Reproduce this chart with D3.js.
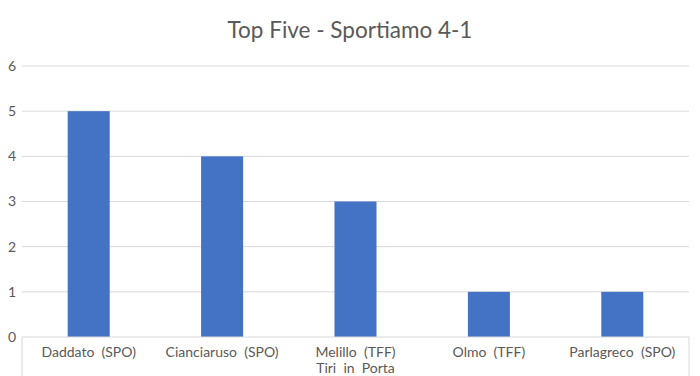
<!DOCTYPE html>
<html>
<head>
<meta charset="utf-8">
<script src="https://cdn.jsdelivr.net/npm/d3@7"></script>
<style>
  body { margin: 0; background: #fff; }
  svg { display: block; }
  text { white-space: pre; }
</style>
</head>
<body>
<div id="chart"></div>
<script>
// Data
const players = ['Daddato  (SPO)', 'Cianciaruso  (SPO)', 'Melillo  (TFF)', 'Olmo  (TFF)', 'Parlagreco  (SPO)'];
const shots = [5, 4, 3, 1, 1];
const yTicks = [0, 1, 2, 3, 4, 5, 6];
const seriesName = 'Tiri  in  Porta';

// Chart dimensions
const width = 700;
const height = 376;
const margin = { top: 66, right: 11, bottom: 39, left: 22 };
const font = 'Lato, "Open Sans", sans-serif';
const textColor = '#595959';

const svg = d3.select('#chart').append('svg')
    .attr('width', width)
    .attr('height', height);

// Scales
const x = d3.scaleBand()
    .domain(players)
    .range([margin.left, width - margin.right])
    .paddingInner(0.685)
    .paddingOuter(0.3425);

const y = d3.scaleLinear()
    .domain([0, 6])
    .range([height - margin.bottom, margin.top]);

// Title
svg.append('text')
    .attr('x', 350)
    .attr('y', 38)
    .attr('text-anchor', 'middle')
    .attr('font-family', font)
    .attr('font-size', 22.5)
    .attr('fill', textColor)
    .text('Top Five - Sportiamo 4-1');

// Gridlines
svg.append('g')
    .selectAll('line')
    .data(yTicks.filter(d => d > 0))
    .join('line')
    .attr('x1', margin.left)
    .attr('x2', width - margin.right)
    .attr('y1', d => y(d))
    .attr('y2', d => y(d))
    .attr('stroke', '#d9d9d9')
    .attr('stroke-width', 1);

// Y tick labels
svg.append('g')
    .selectAll('text')
    .data(yTicks)
    .join('text')
    .attr('x', 12)
    .attr('y', d => y(d))
    .attr('dy', '0.35em')
    .attr('text-anchor', 'middle')
    .attr('font-family', font)
    .attr('font-size', 14)
    .attr('fill', textColor)
    .text(d => d);

// Bars
svg.append('g')
    .selectAll('rect')
    .data(shots)
    .join('rect')
    .attr('x', (d, i) => x(players[i]))
    .attr('y', d => y(d))
    .attr('width', x.bandwidth())
    .attr('height', d => y(0) - y(d))
    .attr('fill', '#4472c4');

// Category axis
const axisY = y(0);
svg.append('line')
    .attr('x1', margin.left)
    .attr('x2', width - margin.right)
    .attr('y1', axisY)
    .attr('y2', axisY)
    .attr('stroke', '#d9d9d9');
[margin.left, width - margin.right].forEach(px => {
    svg.append('line')
        .attr('x1', px)
        .attr('x2', px)
        .attr('y1', axisY)
        .attr('y2', height)
        .attr('stroke', '#d9d9d9');
});

// Category labels
svg.append('g')
    .selectAll('text')
    .data(players)
    .join('text')
    .attr('x', d => x(d) + x.bandwidth() / 2)
    .attr('y', axisY + 20)
    .attr('text-anchor', 'middle')
    .attr('font-family', font)
    .attr('font-size', 14)
    .attr('fill', textColor)
    .text(d => d);

// Series name (cut off by the picture edge)
svg.append('text')
    .attr('x', x(players[2]) + x.bandwidth() / 2)
    .attr('y', axisY + 36)
    .attr('text-anchor', 'middle')
    .attr('font-family', font)
    .attr('font-size', 14)
    .attr('fill', textColor)
    .text(seriesName);
</script>
</body>
</html>
